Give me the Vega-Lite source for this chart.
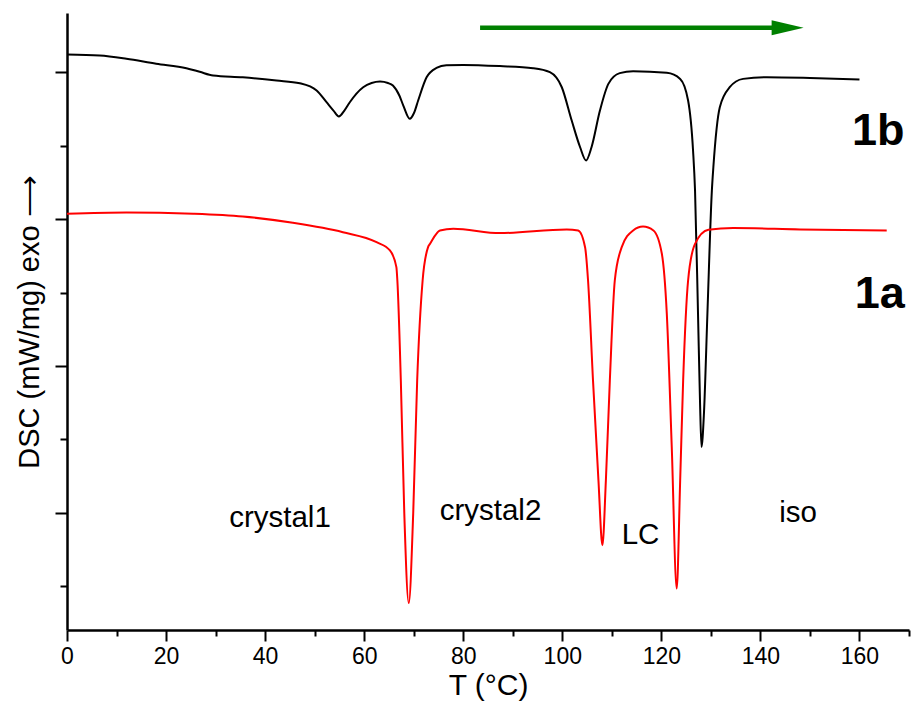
{
  "$schema": "https://vega.github.io/schema/vega-lite/v6.json",
  "width": 842,
  "height": 617,
  "autosize": {"type": "none"},
  "padding": {"left": 67, "top": 13, "right": 3, "bottom": 82},
  "background": "white",
  "config": {"view": {"stroke": null}, "font": "Liberation Sans"},
  "datasets": {
    "curves": [
      {"T": 0, "v": 3.122, "s": "1b"}, {"T": 6.6, "v": 3.115, "s": "1b"}, {"T": 12, "v": 3.093, "s": "1b"}, {"T": 18, "v": 3.059, "s": "1b"},
      {"T": 24.1, "v": 3.029, "s": "1b"}, {"T": 26.8, "v": 3.004, "s": "1b"}, {"T": 29.5, "v": 2.979, "s": "1b"}, {"T": 35.5, "v": 2.967, "s": "1b"},
      {"T": 42.3, "v": 2.945, "s": "1b"}, {"T": 47, "v": 2.926, "s": "1b"}, {"T": 50.4, "v": 2.877, "s": "1b"}, {"T": 52.4, "v": 2.797, "s": "1b"},
      {"T": 53.8, "v": 2.74, "s": "1b"}, {"T": 54.9, "v": 2.7, "s": "1b"}, {"T": 56, "v": 2.74, "s": "1b"}, {"T": 57.1, "v": 2.797, "s": "1b"},
      {"T": 59.8, "v": 2.899, "s": "1b"}, {"T": 61.5, "v": 2.928, "s": "1b"}, {"T": 63.2, "v": 2.938, "s": "1b"}, {"T": 64.8, "v": 2.928, "s": "1b"},
      {"T": 65.8, "v": 2.911, "s": "1b"}, {"T": 67.1, "v": 2.843, "s": "1b"}, {"T": 67.9, "v": 2.774, "s": "1b"}, {"T": 69.2, "v": 2.684, "s": "1b"},
      {"T": 70.1, "v": 2.727, "s": "1b"}, {"T": 70.9, "v": 2.809, "s": "1b"}, {"T": 72.6, "v": 2.967, "s": "1b"}, {"T": 74.6, "v": 3.031, "s": "1b"},
      {"T": 76.6, "v": 3.049, "s": "1b"}, {"T": 80, "v": 3.051, "s": "1b"}, {"T": 87.4, "v": 3.043, "s": "1b"}, {"T": 94.1, "v": 3.029, "s": "1b"},
      {"T": 97.5, "v": 3.002, "s": "1b"}, {"T": 99.9, "v": 2.899, "s": "1b"}, {"T": 101.9, "v": 2.672, "s": "1b"}, {"T": 103.6, "v": 2.49, "s": "1b"},
      {"T": 104.8, "v": 2.4, "s": "1b"}, {"T": 105.9, "v": 2.49, "s": "1b"}, {"T": 107.6, "v": 2.74, "s": "1b"}, {"T": 109.3, "v": 2.922, "s": "1b"},
      {"T": 111.6, "v": 2.995, "s": "1b"}, {"T": 114.3, "v": 3.008, "s": "1b"}, {"T": 121.1, "v": 2.997, "s": "1b"}, {"T": 123.8, "v": 2.956, "s": "1b"},
      {"T": 125.4, "v": 2.809, "s": "1b"}, {"T": 126.4, "v": 2.468, "s": "1b"}, {"T": 126.8, "v": 2.196, "s": "1b"}, {"T": 127.4, "v": 1.357, "s": "1b"},
      {"T": 127.8, "v": 0.765, "s": "1b"}, {"T": 128.1, "v": 0.447, "s": "1b"}, {"T": 128.6, "v": 0.676, "s": "1b"}, {"T": 129.3, "v": 1.357, "s": "1b"},
      {"T": 130.2, "v": 2.196, "s": "1b"}, {"T": 130.5, "v": 2.354, "s": "1b"}, {"T": 131.8, "v": 2.763, "s": "1b"}, {"T": 133.8, "v": 2.899, "s": "1b"},
      {"T": 136.5, "v": 2.956, "s": "1b"}, {"T": 141.3, "v": 2.967, "s": "1b"}, {"T": 150, "v": 2.962, "s": "1b"}, {"T": 160, "v": 2.952, "s": "1b"},
      {"T": 0, "v": 2.037, "s": "1a"}, {"T": 12, "v": 2.046, "s": "1a"}, {"T": 25.5, "v": 2.037, "s": "1a"}, {"T": 35.5, "v": 2.018, "s": "1a"},
      {"T": 45.6, "v": 1.975, "s": "1a"}, {"T": 55.7, "v": 1.911, "s": "1a"}, {"T": 62.5, "v": 1.843, "s": "1a"}, {"T": 65.2, "v": 1.787, "s": "1a"},
      {"T": 66.5, "v": 1.673, "s": "1a"}, {"T": 66.7, "v": 1.582, "s": "1a"}, {"T": 67.4, "v": 0.901, "s": "1a"}, {"T": 68.1, "v": -0.005, "s": "1a"},
      {"T": 69.0, "v": -0.616, "s": "1a"}, {"T": 69.9, "v": -0.005, "s": "1a"}, {"T": 70.7, "v": 0.901, "s": "1a"}, {"T": 71.8, "v": 1.582, "s": "1a"},
      {"T": 72.9, "v": 1.809, "s": "1a"}, {"T": 73.3, "v": 1.832, "s": "1a"}, {"T": 75.3, "v": 1.923, "s": "1a"}, {"T": 78, "v": 1.935, "s": "1a"},
      {"T": 87.4, "v": 1.905, "s": "1a"}, {"T": 100.9, "v": 1.93, "s": "1a"}, {"T": 103.2, "v": 1.923, "s": "1a"}, {"T": 104.6, "v": 1.809, "s": "1a"},
      {"T": 105.2, "v": 1.582, "s": "1a"}, {"T": 106.2, "v": 0.901, "s": "1a"}, {"T": 107.3, "v": 0.22, "s": "1a"}, {"T": 108.1, "v": -0.223, "s": "1a"},
      {"T": 108.8, "v": 0.22, "s": "1a"}, {"T": 109.6, "v": 0.901, "s": "1a"}, {"T": 110.6, "v": 1.582, "s": "1a"}, {"T": 112, "v": 1.809, "s": "1a"},
      {"T": 114.3, "v": 1.923, "s": "1a"}, {"T": 116.3, "v": 1.95, "s": "1a"}, {"T": 118.4, "v": 1.923, "s": "1a"}, {"T": 120.1, "v": 1.764, "s": "1a"},
      {"T": 121.1, "v": 1.356, "s": "1a"}, {"T": 122.1, "v": 0.447, "s": "1a"}, {"T": 123.1, "v": -0.518, "s": "1a"}, {"T": 123.8, "v": 0.22, "s": "1a"},
      {"T": 124.4, "v": 0.901, "s": "1a"}, {"T": 125.4, "v": 1.582, "s": "1a"}, {"T": 126.8, "v": 1.832, "s": "1a"}, {"T": 129.5, "v": 1.928, "s": "1a"},
      {"T": 134.5, "v": 1.939, "s": "1a"}, {"T": 148, "v": 1.93, "s": "1a"}, {"T": 165.5, "v": 1.923, "s": "1a"}
    ],
    "phases": [
      {"T": 43, "v": -0.1, "label": "crystal1"},
      {"T": 85.5, "v": -0.048, "label": "crystal2"},
      {"T": 115.8, "v": -0.211, "label": "LC"},
      {"T": 147.6, "v": -0.064, "label": "iso"}
    ],
    "samples": [
      {"T": 163.8, "v": 2.508, "label": "1b"},
      {"T": 164.1, "v": 1.396, "label": "1a"}
    ],
    "arrow": [
      {"T1": 83.4, "T2": 145, "Thead": 145.5, "v": 3.304}
    ]
  },
  "layer": [
    {
      "data": {"name": "curves"},
      "mark": {"type": "line", "strokeWidth": 2, "interpolate": "monotone"},
      "encoding": {
        "x": {
          "field": "T", "type": "quantitative",
          "scale": {"domain": [0, 170], "nice": false, "zero": false},
          "axis": {
            "values": [0, 10, 20, 30, 40, 50, 60, 70, 80, 90, 100, 110, 120, 130, 140, 150, 160, 170],
            "labelExpr": "datum.value % 20 === 0 && datum.value <= 160 ? datum.label : ''",
            "tickSize": {"condition": {"test": "datum.value % 20 === 0", "value": 11}, "value": 6},
            "tickWidth": 2, "tickColor": "black",
            "domainWidth": 2.5, "domainColor": "black",
            "grid": false,
            "labelFontSize": 23, "labelColor": "black", "labelPadding": 4, "labelFlush": false, "labelOverlap": false,
            "title": "T (°C)", "titleFontSize": 30, "titleFontWeight": "normal", "titleColor": "black", "titlePadding": 2
          }
        },
        "y": {
          "field": "v", "type": "quantitative",
          "scale": {"domain": [-0.8, 3.405], "nice": false, "zero": false},
          "axis": {
            "values": [-0.5, 0, 0.5, 1, 1.5, 2, 2.5, 3],
            "labels": false,
            "tickSize": {"condition": {"test": "datum.value % 1 === 0", "value": 12}, "value": 7},
            "tickWidth": 2, "tickColor": "black",
            "domainWidth": 2.5, "domainColor": "black",
            "grid": false,
            "title": "DSC (mW/mg) exo ⟶", "titleFontSize": 29, "titleFontWeight": "normal", "titleColor": "black", "titlePadding": 10
          }
        },
        "color": {
          "field": "s", "type": "nominal",
          "scale": {"domain": ["1b", "1a"], "range": ["#000000", "#ff0000"]},
          "legend": null
        }
      }
    },
    {
      "data": {"name": "arrow"},
      "mark": {"type": "rule", "color": "#008000", "strokeWidth": 4.5},
      "encoding": {
        "x": {"field": "T1", "type": "quantitative"},
        "x2": {"field": "T2"},
        "y": {"field": "v", "type": "quantitative"}
      }
    },
    {
      "data": {"name": "arrow"},
      "mark": {"type": "point", "shape": "M-1,-0.47L1,0L-1,0.47Z", "filled": true, "color": "#008000", "opacity": 1, "size": 1024, "strokeWidth": 0},
      "encoding": {
        "x": {"field": "Thead", "type": "quantitative"},
        "y": {"field": "v", "type": "quantitative"}
      }
    },
    {
      "data": {"name": "phases"},
      "mark": {"type": "text", "fontSize": 29.5, "color": "black", "align": "center", "baseline": "alphabetic"},
      "encoding": {
        "x": {"field": "T", "type": "quantitative"},
        "y": {"field": "v", "type": "quantitative"},
        "text": {"field": "label"}
      }
    },
    {
      "data": {"name": "samples"},
      "mark": {"type": "text", "fontSize": 45, "fontWeight": "bold", "color": "black", "align": "center", "baseline": "alphabetic"},
      "encoding": {
        "x": {"field": "T", "type": "quantitative"},
        "y": {"field": "v", "type": "quantitative"},
        "text": {"field": "label"}
      }
    }
  ]
}
